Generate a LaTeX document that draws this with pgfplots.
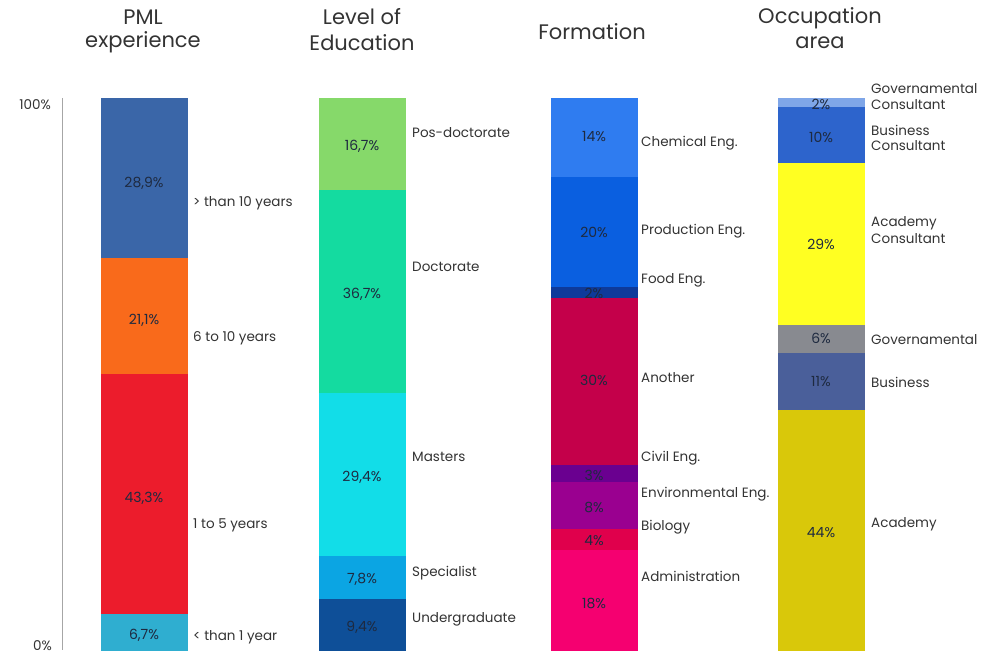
\documentclass[border=0pt]{standalone}
\usepackage{pgfplots}
\pgfplotsset{compat=1.18}
\usepackage{fontspec}
\setmainfont{Poppins}

% bar colours
\definecolor{pmlA}{HTML}{2FAED0}
\definecolor{pmlB}{HTML}{EC1C2C}
\definecolor{pmlC}{HTML}{F96A1B}
\definecolor{pmlD}{HTML}{3A66A8}
\definecolor{eduA}{HTML}{0E4F98}
\definecolor{eduB}{HTML}{0BA5E3}
\definecolor{eduC}{HTML}{12DDE8}
\definecolor{eduD}{HTML}{14DBA0}
\definecolor{eduE}{HTML}{86D96A}
\definecolor{forA}{HTML}{F50070}
\definecolor{forB}{HTML}{E0004C}
\definecolor{forC}{HTML}{9A0090}
\definecolor{forD}{HTML}{6A0090}
\definecolor{forE}{HTML}{C4004A}
\definecolor{forF}{HTML}{0E3A9A}
\definecolor{forG}{HTML}{0A5FE0}
\definecolor{forH}{HTML}{2F7CF0}
\definecolor{occA}{HTML}{D9C80A}
\definecolor{occB}{HTML}{4A5F9A}
\definecolor{occC}{HTML}{888A90}
\definecolor{occD}{HTML}{FFFF22}
\definecolor{occE}{HTML}{2D64CC}
\definecolor{occF}{HTML}{7FA6E8}
\definecolor{txt}{HTML}{333333}
\definecolor{val}{HTML}{1E2A40}

\pgfplotsset{
  stackbar/.style={
    at={(0,0)}, anchor=south west,
    scale only axis, width=990pt, height=657pt,
    xmin=0, xmax=990, ymin=-1.085, ymax=117.72,
    hide axis, clip=false,
    ybar stacked, bar width=87pt,
  },
}
\tikzset{seg/.style={fill=#1, draw=none}}

\begin{document}
\begin{tikzpicture}
\useasboundingbox (0,0) rectangle (990pt,657pt);

% PML experience
\begin{axis}[stackbar]
\addplot[seg=pmlA] coordinates {(144,6.7)};
\addplot[seg=pmlB] coordinates {(144,43.3)};
\addplot[seg=pmlC] coordinates {(144,21.1)};
\addplot[seg=pmlD] coordinates {(144,28.9)};
\end{axis}

% Level of education
\begin{axis}[stackbar]
\addplot[seg=eduA] coordinates {(362,9.4)};
\addplot[seg=eduB] coordinates {(362,7.8)};
\addplot[seg=eduC] coordinates {(362,29.4)};
\addplot[seg=eduD] coordinates {(362,36.7)};
\addplot[seg=eduE] coordinates {(362,16.7)};
\end{axis}

% Formation
\begin{axis}[stackbar]
\addplot[seg=forA] coordinates {(594,18.3)};
\addplot[seg=forB] coordinates {(594,3.8)};
\addplot[seg=forC] coordinates {(594,8.5)};
\addplot[seg=forD] coordinates {(594,3.0)};
\addplot[seg=forE] coordinates {(594,30.2)};
\addplot[seg=forF] coordinates {(594,2.0)};
\addplot[seg=forG] coordinates {(594,20.0)};
\addplot[seg=forH] coordinates {(594,14.2)};
\end{axis}

% Occupation area
\begin{axis}[stackbar]
\addplot[seg=occA] coordinates {(821,43.6)};
\addplot[seg=occB] coordinates {(821,10.3)};
\addplot[seg=occC] coordinates {(821,5.1)};
\addplot[seg=occD] coordinates {(821,29.3)};
\addplot[seg=occE] coordinates {(821,10.0)};
\addplot[seg=occF] coordinates {(821,1.7)};
\end{axis}

% texts, in pixel coordinates of the reference (y downwards)
\begin{scope}[x=1pt, y=-1pt, yshift=657pt,
  ttl/.style={font=\fontsize{21}{23}\selectfont, text=txt, inner sep=0},
  lab/.style={font=\fontsize{13.5}{15}\selectfont, text=txt, anchor=west, inner sep=0},
  v/.style={font=\fontsize{14}{16}\selectfont, text=val, inner sep=0}]
\draw[gray!70, line width=0.8pt] (62,98) -- (62,650);
\node[lab, anchor=east] at (51,105) {100\%};
\node[lab, anchor=east] at (52,646) {0\%};

\node[ttl] at (143,17) {PML};
\node[ttl] at (143,42) {experience};
\node[ttl] at (362,17) {Level of};
\node[ttl] at (362,43) {Education};
\node[ttl] at (592,32) {Formation};
\node[ttl] at (820,18) {Occupation};
\node[ttl] at (820,43) {area};

\node[v] at (144,183) {28,9\%};
\node[v] at (144,320) {21,1\%};
\node[v] at (144,498) {43,3\%};
\node[v] at (144,635) {6,7\%};
\node[lab] at (193,203) {> than 10 years};
\node[lab] at (193,338) {6 to 10 years};
\node[lab] at (193,525) {1 to 5 years};
\node[lab] at (193,637) {< than 1 year};

\node[v] at (362,146) {16,7\%};
\node[v] at (362,294) {36,7\%};
\node[v] at (362,477) {29,4\%};
\node[v] at (362,579) {7,8\%};
\node[v] at (362,627) {9,4\%};
\node[lab] at (412,133) {Pos-doctorate};
\node[lab] at (412,267) {Doctorate};
\node[lab] at (412,457) {Masters};
\node[lab] at (412,573) {Specialist};
\node[lab] at (412,619) {Undergraduate};

\node[v] at (594,137) {14\%};
\node[v] at (594,232) {20\%};
\node[v] at (594,293) {2\%};
\node[v] at (594,380) {30\%};
\node[v] at (594,475) {3\%};
\node[v] at (594,507) {8\%};
\node[v] at (594,541) {4\%};
\node[v] at (594,603) {18\%};
\node[lab] at (641,143) {Chemical Eng.};
\node[lab] at (641,231) {Production Eng.};
\node[lab] at (641,280) {Food Eng.};
\node[lab] at (641,378) {Another};
\node[lab] at (641,458) {Civil Eng.};
\node[lab] at (641,494) {Environmental Eng.};
\node[lab] at (641,527) {Biology};
\node[lab] at (641,576) {Administration};

\node[v] at (821,104) {2\%};
\node[v] at (821,137) {10\%};
\node[v] at (821,244) {29\%};
\node[v] at (821,338) {6\%};
\node[v] at (821,382) {11\%};
\node[v] at (821,533) {44\%};
\node[lab] at (871,89) {Governamental};
\node[lab] at (871,105) {Consultant};
\node[lab] at (871,130) {Business};
\node[lab] at (871,146) {Consultant};
\node[lab] at (871,223) {Academy};
\node[lab] at (871,239) {Consultant};
\node[lab] at (871,340) {Governamental};
\node[lab] at (871,382) {Business};
\node[lab] at (871,524) {Academy};
\end{scope}
\end{tikzpicture}
\end{document}
